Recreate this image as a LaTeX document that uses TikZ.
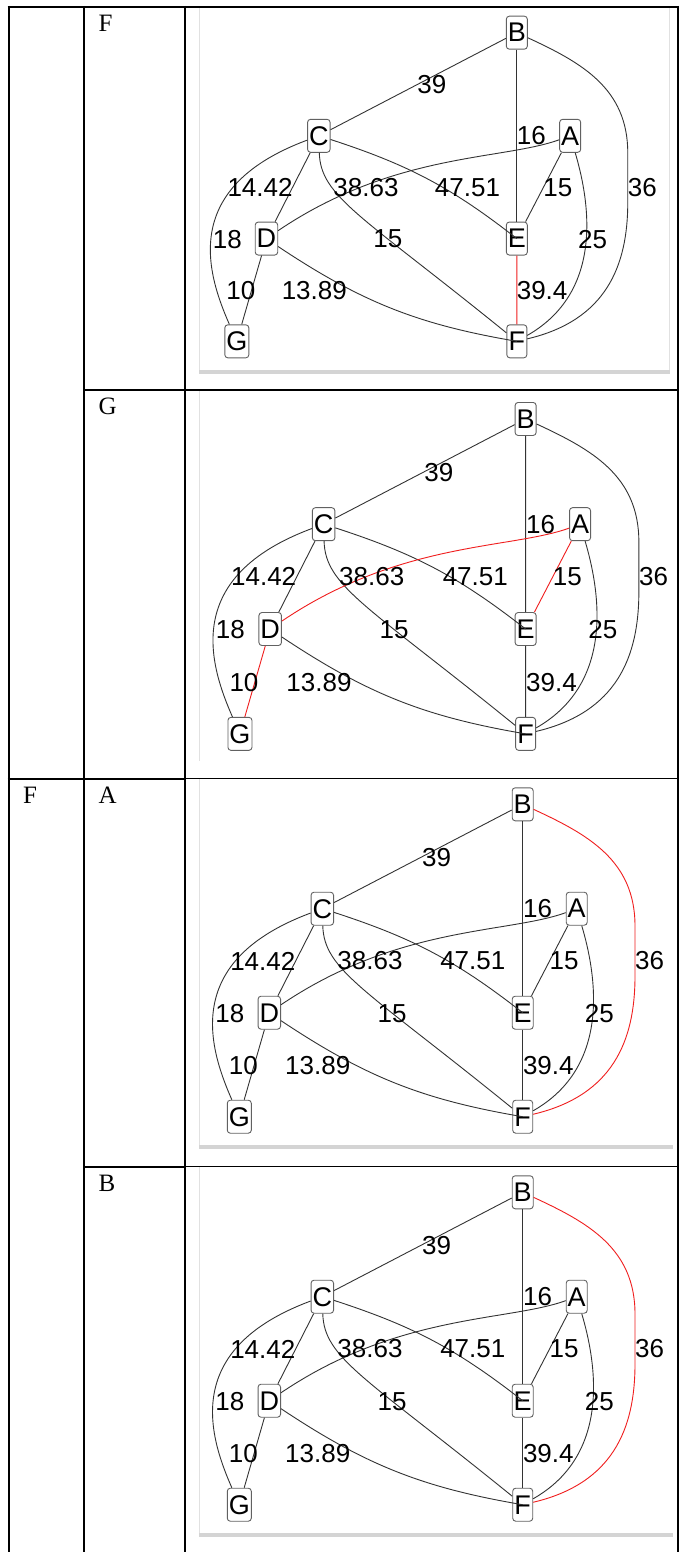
\documentclass[tikz,border=0pt]{standalone}
\usepackage{fontspec}
\setmainfont{Liberation Serif}
\newfontfamily\gsans{Liberation Sans}
\definecolor{hl}{RGB}{240,30,30}
\definecolor{frm}{RGB}{225,225,225}
\definecolor{barc}{RGB}{212,212,212}
\newcommand\drawgraph[4]{%
\begin{scope}[name prefix=#1-, shift={#2}, scale=#3, #4]
  \node[vtx] (B) at (114.7,-156.2) {B};
  \node[vtx] (C) at (-85.7,-51.8) {C};
  \node[vtx] (A) at (168.7,-51.8) {A};
  \node[vtx] (D) at (-138.7,52.2) {D};
  \node[vtx] (E) at (114.7,52.2) {E};
  \node[vtx] (G) at (-168.7,156.2) {G};
  \node[vtx] (F) at (114.7,156.2) {F};
  \coordinate (m1) at (227,-34.5);
  \coordinate (m2) at (227,15.5);
  \draw[eBC] (B) -- (C);
  \draw[eBE] (B) -- (E);
  \draw[eBF] (B) .. controls (180,-126) and (227,-100) .. (m1) -- (m2)
       .. controls (227,80) and (205,135) .. (F);
  \draw[eCD] (C) -- (D);
  \draw[eCG] (C) .. controls (-225,0) and (-200,85) .. (G);
  \draw[eCE] (C) to[bend left=10] (E);
  \draw[eCF] (C) .. controls (-84,10) and (-42,29) .. (F);
  \draw[eDA] (D) .. controls (-10,-35) and (100,-27) .. (A);
  \draw[eDF] (D) to[bend right=12] (F);
  \draw[eDG] (D) -- (G);
  \draw[eEA] (E) -- (A);
  \draw[eEF] (E) -- (F);
  \draw[eAF] (A) .. controls (193,30) and (196,110) .. (F);
  \node[elab] (l39) at (28.7,-103.3) {39};
  \node[elab] (l16) at (129.5,-51.7) {16};
  \node[elab] (l36) at (241.7,0.5) {36};
  \node[elab] (l1442) at (-145.2,0.5) {14.42};
  \node[elab] (l3863) at (-38,0.5) {38.63};
  \node[elab] (l4751) at (64.8,0.5) {47.51};
  \node[elab] (l15a) at (156.2,0.5) {15};
  \node[elab] (l18) at (-178.2,52.7) {18};
  \node[elab] (l15b) at (-15.8,52.7) {15};
  \node[elab] (l25) at (191.3,52.7) {25};
  \node[elab] (l10) at (-164.7,105) {10};
  \node[elab] (l1389) at (-90.3,105) {13.89};
  \node[elab] (l394) at (140.3,105) {39.4};
\end{scope}}
\begin{document}
\begin{tikzpicture}[x=1pt,y=-1pt,
  vtx/.style={draw=black!62, line width=0.9pt, fill=white, rounded corners=3pt,
    inner sep=0pt, inner xsep=1.5pt, minimum height=33pt, minimum width=20pt,
    font=\gsans\fontsize{27}{32}\selectfont},
  elab/.style={inner sep=0pt, font=\gsans\fontsize{26}{31}\selectfont},
  gline/.style={draw=black!80, line width=0.9pt},
  rline/.style={draw=hl, line width=0.9pt},
  eBC/.style={gline}, eBE/.style={gline}, eBF/.style={gline}, eCD/.style={gline},
  eCG/.style={gline}, eCE/.style={gline}, eCF/.style={gline}, eDA/.style={gline},
  eDF/.style={gline}, eDG/.style={gline}, eEA/.style={gline}, eEF/.style={gline},
  eAF/.style={gline},
  cell/.style={inner sep=0pt, anchor=base west, font=\fontsize{25}{29}\selectfont},
  thick line/.style={line width=2pt, black},
  thin line/.style={line width=1.5pt, black}]
\fill[white] (0,0) rectangle (688,1552);
\useasboundingbox (0,0) rectangle (688,1552);
% image frames
\draw[frm, line width=1pt] (199.5,8) -- (199.5,370);
\draw[frm, line width=1pt] (669.5,8) -- (669.5,370);
\fill[barc] (199,369.7) rectangle (670,373.7);
\draw[frm, line width=1pt] (199.5,391) -- (199.5,761);
\draw[frm, line width=1pt] (199.5,779) -- (199.5,1146);
\fill[barc] (199,1145.3) rectangle (673.3,1149.3);
\draw[frm, line width=1pt] (199.5,1167) -- (199.5,1534);
\fill[barc] (199,1533.3) rectangle (673.3,1537.3);
% graphs
\drawgraph{g1}{(403.5,187)}{0.988}{eEF/.style={rline}}
\drawgraph{g2}{(410,576.4)}{1.008}{eDA/.style={rline},eEA/.style={rline},eDG/.style={rline}}
\drawgraph{g3}{(408,960.5)}{1}{eBF/.style={rline}}
\drawgraph{g4}{(408,1348.5)}{1}{eBF/.style={rline}}
% table
\draw[thick line] (8.5,6) -- (8.5,1552);
\draw[thick line] (83.5,6) -- (83.5,1552);
\draw[thick line] (184.5,6) -- (184.5,1552);
\draw[thick line] (678,6) -- (678,1552);
\draw[thick line] (7.5,7) -- (184.5,7);
\draw[thin line] (184.5,7) -- (679,7);
\draw[thick line] (83.5,390) -- (184.5,390);
\draw[thin line] (184.5,390) -- (679,390);
\draw[thick line] (7.5,778.5) -- (184.5,778.5);
\draw[thin line] (184.5,778.5) -- (679,778.5);
\draw[thick line] (83.5,1166.5) -- (184.5,1166.5);
\draw[thin line] (184.5,1166.5) -- (679,1166.5);
% cell texts
\node[cell] (r1b) at (98.5,32) {F};
\node[cell] (r2b) at (98.5,414.5) {G};
\node[cell] (r3a) at (23,803) {F};
\node[cell] (r3b) at (98.5,803) {A};
\node[cell] (r4b) at (98.5,1191) {B};
\end{tikzpicture}
\end{document}
